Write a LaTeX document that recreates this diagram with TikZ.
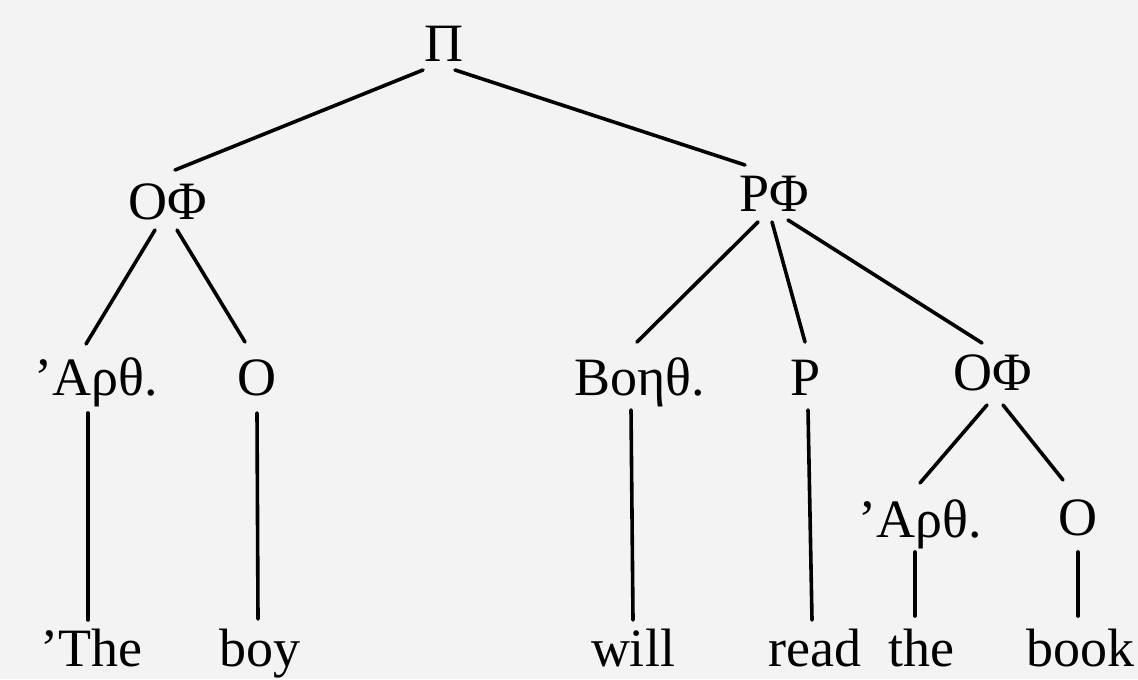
\documentclass[tikz,border=0pt]{standalone}
\usepackage{fontspec}
\setmainfont{Liberation Serif}
\definecolor{bgc}{HTML}{F3F3F3}
\begin{document}
\begin{tikzpicture}[x=0.5pt,y=-0.5pt,
  lab/.style={anchor=base,inner sep=0pt,font=\fontsize{27}{30}\selectfont},
  edge/.style={line width=1.8pt,line cap=round}]
\fill[bgc] (0,0) rectangle (1138,679);
\useasboundingbox (0,0) rectangle (1138,679);
% nodes
\node[lab] (pi) at (444,62) {Π};
\node[lab] (opl) at (168,220) {ΟΦ};
\node[lab] (rp) at (774,212) {ΡΦ};
\node[lab] (artl) at (96,395) {’Αρθ.};
\node[lab] (ol) at (257,395) {Ο};
\node[lab] (boith) at (640,395) {Βοηθ.};
\node[lab] (rr) at (806,395) {Ρ};
\node[lab] (opr) at (993,390) {ΟΦ};
\node[lab] (artr) at (920,537) {’Αρθ.};
\node[lab] (orr) at (1078,535) {Ο};
\node[lab] (w1) at (91,666) {’The};
\node[lab] (w2) at (260,666) {boy};
\node[lab] (w3) at (633,666) {will};
\node[lab] (w4) at (815,666) {read};
\node[lab] (w5) at (921,666) {the};
\node[lab] (w6) at (1080,666) {book};
% connectors
\draw[edge] ([shift={(-21,8)}]pi.base) -- ([shift={(7,-50)}]opl.base);
\draw[edge] ([shift={(11,8)}]pi.base) -- ([shift={(-29,-47)}]rp.base);
\draw[edge] ([shift={(-13,10)}]opl.base) -- ([shift={(-10,-51)}]artl.base);
\draw[edge] ([shift={(9,10)}]opl.base) -- ([shift={(-12,-53)}]ol.base);
\draw[edge] ([shift={(-16,10)}]rp.base) -- ([shift={(-3,-53)}]boith.base);
\draw[edge] ([shift={(-2,10)}]rp.base) -- ([shift={(-1,-53)}]rr.base);
\draw[edge] ([shift={(14,8)}]rp.base) -- ([shift={(-11,-47)}]opr.base);
\draw[edge] ([shift={(-6,15)}]opr.base) -- ([shift={(0,-54)}]artr.base);
\draw[edge] ([shift={(10,15)}]opr.base) -- ([shift={(-15,-55)}]orr.base);
\draw[edge] ([shift={(-8,18)}]artl.base) -- ([shift={(-3,-46)}]w1.base);
\draw[edge] ([shift={(0,18)}]ol.base) -- ([shift={(-2,-47)}]w2.base);
\draw[edge] ([shift={(-9,15)}]boith.base) -- ([shift={(0,-46)}]w3.base);
\draw[edge] ([shift={(2,15)}]rr.base) -- ([shift={(-3,-46)}]w4.base);
\draw[edge] ([shift={(-5,15)}]artr.base) -- ([shift={(-6,-50)}]w5.base);
\draw[edge] ([shift={(0,17)}]orr.base) -- ([shift={(-2,-50)}]w6.base);
\end{tikzpicture}
\end{document}
